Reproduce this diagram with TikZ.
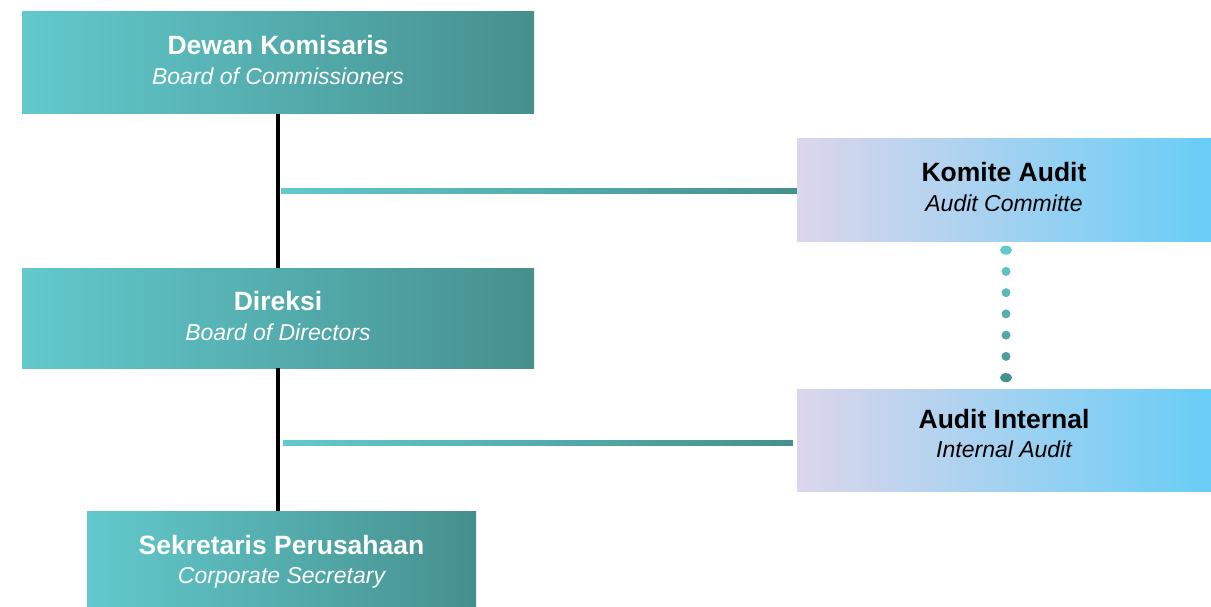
\documentclass[tikz,border=0pt]{standalone}
\usepackage{fontspec}
\setmainfont{Liberation Sans}
\usetikzlibrary{calc,shapes.geometric}
\definecolor{tealL}{HTML}{62C9CC}
\definecolor{tealR}{HTML}{46908E}
\definecolor{skyL}{HTML}{DCD6EB}
\definecolor{skyR}{HTML}{68CDF6}
\tikzset{
  x=1pt, y=-1pt,
  tealbox/.style={left color=tealL, right color=tealR, draw=none, inner sep=0pt},
  skybox/.style={left color=skyL, right color=skyR, draw=none, inner sep=0pt},
  boxlabel/.style={align=center, inner sep=0pt, font=\fontsize{26.5}{29.5}\selectfont},
  trunk/.style={line width=4pt, black},
  dotmark/.style={ellipse, inner sep=0pt, minimum height=9pt, draw=none},
}
\newcommand{\boxtext}[2]{\textbf{#1}\\{\fontsize{23}{29.5}\selectfont\itshape #2}}
\begin{document}
\begin{tikzpicture}
  \useasboundingbox (0,0) rectangle (1211,607);
  % organisation boxes
  \node[tealbox, minimum width=512pt, minimum height=102pt] (dk) at (278,63) {};
  \node[tealbox, minimum width=512pt, minimum height=100pt] (dir) at (278,318) {};
  \node[tealbox, minimum width=389pt, minimum height=96pt] (sek) at (281.5,559) {};
  \node[skybox, minimum width=414pt, minimum height=102pt] (ka) at (1004,190) {};
  \node[skybox, minimum width=414pt, minimum height=102pt] (ai) at (1004,440) {};
  % box captions
  \node[boxlabel, text=white] (dkt) at ($(dk.center)+(0,-3)$)
    {\boxtext{Dewan Komisaris}{Board of Commissioners}};
  \node[boxlabel, text=white] (dirt) at ($(dir.center)+(0,-2)$)
    {\boxtext{Direksi}{Board of Directors}};
  \node[boxlabel, text=white] (sekt) at ($(sek.center)+(0,3)$)
    {\boxtext{Sekretaris Perusahaan}{Corporate Secretary}};
  \node[boxlabel, text=black] (kat) at ($(ka.center)+(0,-3)$)
    {\boxtext{Komite Audit}{Audit Committe}};
  \node[boxlabel, text=black] (ait) at ($(ai.center)+(0,-6.5)$)
    {\boxtext{Audit Internal}{Internal Audit}};
  % vertical trunk
  \draw[trunk] (dk.south) -- (dir.north);
  \draw[trunk] (dir.south) -- (dir.south |- sek.north);
  % branches to the audit boxes
  \coordinate (b1) at ($(dk.south)!0.5!(dir.north)+(3,0)$);
  \coordinate (b2) at ($(dir.south)!0.5!(sek.north)+(3,3)$);
  \shade[left color=tealL, right color=tealR] ($(b1)+(0,-2.5)$) rectangle ($(ka.west |- b1)+(0,2.5)$);
  \shade[left color=tealL, right color=tealR] ($(b2)+(0,-2.5)$) rectangle ($(ai.west |- b2)+(-4,2.5)$);
  % dotted link between the audit boxes
  \foreach \i/\c/\w in {0/0/12,1/15/9,2/30/9,3/45/9,4/60/9,5/75/9,6/100/12} {
    \node[dotmark, fill=tealR!\c!tealL, minimum width=\w pt]
      (d\i) at ($(ka.south)!{(\i*21.3+9)/148}!(ai.north)+(2,0)$) {};
  }
\end{tikzpicture}
\end{document}
